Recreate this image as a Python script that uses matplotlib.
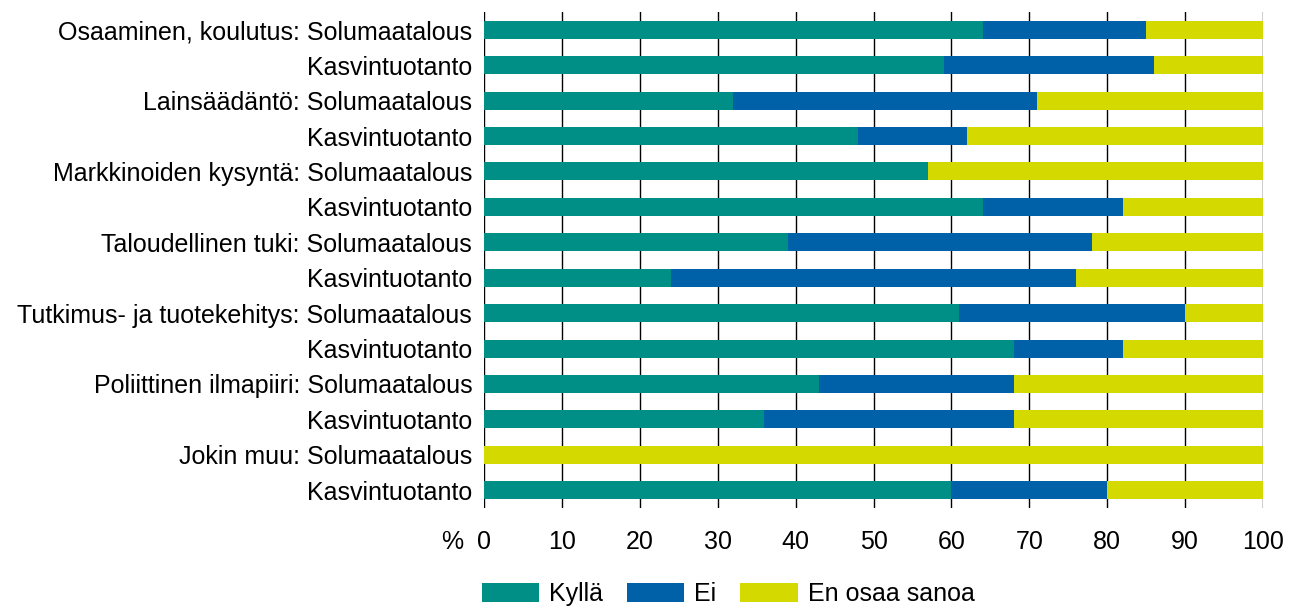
import matplotlib
matplotlib.use("Agg")
import matplotlib.pyplot as plt
import numpy as np

plt.rcParams['font.family'] = ['Liberation Sans', 'DejaVu Sans']

# Row labels, top to bottom
labels = [
    "Osaaminen, koulutus: Solumaatalous", "Kasvintuotanto",
    "Lainsäädäntö: Solumaatalous", "Kasvintuotanto",
    "Markkinoiden kysyntä: Solumaatalous", "Kasvintuotanto",
    "Taloudellinen tuki: Solumaatalous", "Kasvintuotanto",
    "Tutkimus- ja tuotekehitys: Solumaatalous", "Kasvintuotanto",
    "Poliittinen ilmapiiri: Solumaatalous", "Kasvintuotanto",
    "Jokin muu: Solumaatalous", "Kasvintuotanto",
]

# Shares of answers (%)
kylla = [64, 59, 32, 48, 57, 64, 39, 24, 61, 68, 43, 36, 0, 60]
ei = [21, 27, 39, 14, 0, 18, 39, 52, 29, 14, 25, 32, 0, 20]
en_osaa = [15, 14, 29, 38, 43, 18, 22, 24, 10, 18, 32, 32, 100, 20]

series_names = ["Kyllä", "Ei", "En osaa sanoa"]
colors = ["#008F87", "#0061A8", "#D4D900"]
xticks = list(range(0, 101, 10))

fig = plt.figure(figsize=(12.98, 6.08), dpi=100)
ax = fig.add_axes([484 / 1298, 1 - 508 / 608, 779 / 1298, 496 / 608])

y = np.arange(len(labels))
left = np.zeros(len(labels))
for vals, name, col in zip([kylla, ei, en_osaa], series_names, colors):
    vals = np.array(vals, dtype=float)
    ax.barh(y, vals, left=left, height=0.51, color=col, label=name, zorder=3)
    left += vals

ax.set_ylim(len(labels) - 0.5, -0.5)
ax.set_xlim(0, 100)
ax.set_xticks(xticks)
ax.set_xticklabels([str(t) for t in xticks])
ax.set_yticks(y)
ax.set_yticklabels(labels)

for t in xticks:
    ax.axvline(t, color="black", linewidth=1.0, zorder=1)

for s in ax.spines.values():
    s.set_visible(False)

fs = 18
pad = 15.5
ax.tick_params(axis='x', length=0, pad=pad, labelsize=fs)
ax.tick_params(axis='y', length=0, pad=8.5, labelsize=fs)

ax.annotate("%", xy=(-4.1, 0), xycoords=ax.get_xaxis_transform(),
            xytext=(0, -pad), textcoords='offset points',
            ha='center', va='top', fontsize=fs)

fig.legend(loc='center', bbox_to_anchor=(728 / 1298, 1 - 594 / 608),
           ncol=3, frameon=False, fontsize=fs, handlelength=2.3,
           handleheight=0.78, handletextpad=0.4, columnspacing=0.95,
           borderpad=0)

fig.savefig("out.png", dpi=100)
